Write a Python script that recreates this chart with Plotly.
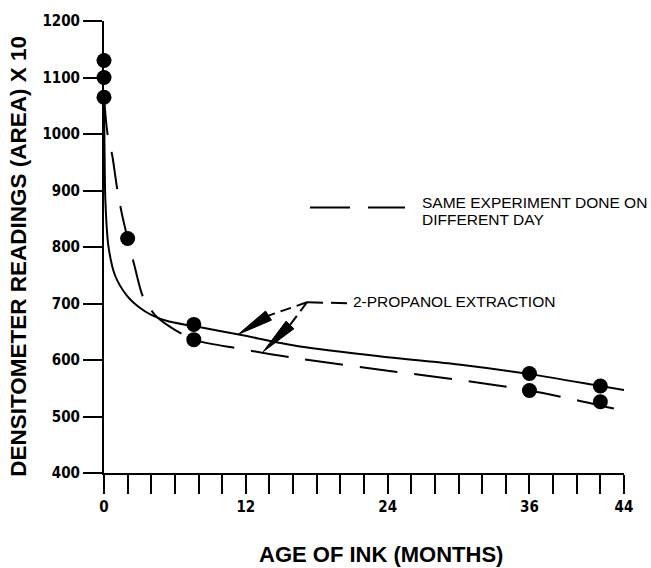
import plotly.graph_objects as go

# ---------------- data ----------------
# measured points
pts_month = [0, 0, 0, 2, 7.6, 7.6, 36, 36, 42, 42]
pts_value = [1130, 1100, 1065, 815, 663, 636, 576, 546, 554, 526]

# solid fitted curve (2-propanol extraction)
solid_month = [0, 0.05, 0.12, 0.37, 0.93, 1.9, 3.0, 4.0, 5.5, 7.6, 11.4, 16.6, 24, 30, 36, 42, 44]
solid_value = [1065, 960, 880, 802, 750, 715, 693, 680, 668, 660, 645, 624, 605, 592, 575, 554, 547]

# dashed fitted curve (same experiment, different day)
dash_month = [0, 0.3, 0.7, 1.1, 1.5, 2.0, 2.6, 3.3, 4.3, 5.5, 7.6, 11.5, 16, 24, 30, 36, 40, 44]
dash_value = [1065, 1000, 962, 905, 860, 815, 765, 712, 680, 660, 636, 620, 604, 581, 565, 546, 529, 510]

x_tickvals = [0, 2, 4, 6, 8, 10, 12, 14, 16, 18, 20, 22, 24, 26, 28, 30, 32, 34, 36, 38, 40, 42, 44]
x_ticklabels = {0: "0", 12: "12", 24: "24", 36: "36", 44: "44"}
y_tickvals = [400, 500, 600, 700, 800, 900, 1000, 1100, 1200]

legend_text_1 = "SAME EXPERIMENT DONE ON"
legend_text_2 = "DIFFERENT DAY"
arrow_text = "2-PROPANOL EXTRACTION"
x_title = "AGE OF INK (MONTHS)"
y_title = "DENSITOMETER READINGS (AREA) X 10"

# ---------------- layout geometry ----------------
W, H = 651, 568
ML, MR, MT, MB = 104, 27, 15, 95
XR = [0, 44]
YR = [400, 1200]
PW = W - ML - MR
PH = H - MT - MB


def dx(px):
    return XR[0] + (px - ML) * (XR[1] - XR[0]) / PW


def dy(py):
    return YR[0] + (MT + PH - py) * (YR[1] - YR[0]) / PH


BOLD_NARROW = "Liberation Sans Narrow, Arial Narrow, DejaVu Sans Condensed, sans-serif"
SANS = "Liberation Sans, Arial, Helvetica, sans-serif"

fig = go.Figure()

fig.add_trace(go.Scatter(x=solid_month, y=solid_value, mode="lines",
                         line=dict(color="black", width=2, shape="spline", smoothing=0.8),
                         hoverinfo="skip", showlegend=False))
fig.add_trace(go.Scatter(x=dash_month, y=dash_value, mode="lines",
                         line=dict(color="black", width=2, shape="spline", smoothing=0.8,
                                   dash="38px,17px"),
                         hoverinfo="skip", showlegend=False))
fig.add_trace(go.Scatter(x=pts_month, y=pts_value, mode="markers",
                         marker=dict(color="black", size=15), cliponaxis=False,
                         hoverinfo="skip", showlegend=False))

shapes = []
# legend line sample
shapes.append(dict(type="line", xref="x", yref="y", x0=dx(310), x1=dx(405), y0=dy(204), y1=dy(204),
                   line=dict(color="black", width=2, dash="40px,18px")))
# leader line to label
shapes.append(dict(type="line", xref="x", yref="y", x0=dx(307), x1=dx(347), y0=dy(300), y1=dy(301),
                   line=dict(color="black", width=2, dash="16px,8px")))

# arrows: (junction) -> base -> tip
junction = (307, 300)
arrows = [((268.5, 313.5), (238.3, 332.5)),
          ((290.0, 323.0), (263.3, 350.0))]
for base, tip in arrows:
    shapes.append(dict(type="line", xref="x", yref="y", x0=dx(junction[0]), y0=dy(junction[1]),
                       x1=dx(base[0]), y1=dy(base[1]),
                       line=dict(color="black", width=2, dash="11px,6px")))
    vx, vy = tip[0] - base[0], tip[1] - base[1]
    ln = (vx ** 2 + vy ** 2) ** 0.5
    nx, ny = -vy / ln * 5.5, vx / ln * 5.5
    p1 = (base[0] + nx, base[1] + ny)
    p2 = (base[0] - nx, base[1] - ny)
    path = "M {},{} L {},{} L {},{} Z".format(dx(tip[0]), dy(tip[1]), dx(p1[0]), dy(p1[1]),
                                               dx(p2[0]), dy(p2[1]))
    shapes.append(dict(type="path", xref="x", yref="y", path=path, fillcolor="black",
                       line=dict(color="black", width=1)))

annotations = [
    dict(text=legend_text_1, xref="x", yref="y", x=dx(420), y=dy(199), xanchor="left", yanchor="middle",
         showarrow=False, font=dict(family=SANS, size=15.5, color="black")),
    dict(text=legend_text_2, xref="x", yref="y", x=dx(420), y=dy(216), xanchor="left", yanchor="middle",
         showarrow=False, font=dict(family=SANS, size=15.5, color="black")),
    dict(text=arrow_text, xref="x", yref="y", x=dx(351), y=dy(299), xanchor="left", yanchor="middle",
         showarrow=False, font=dict(family=SANS, size=15.5, color="black")),
    dict(text=x_title, xref="paper", yref="paper", x=(381 - ML) / PW, y=(MT + PH - 556) / PH,
         xanchor="center", yanchor="middle", showarrow=False,
         font=dict(family=SANS, size=22, color="black", weight="bold")),
    dict(text=y_title, xref="paper", yref="paper", x=(19 - ML) / PW, y=(MT + PH - 254) / PH,
         xanchor="center", yanchor="middle", textangle=-90, showarrow=False,
         font=dict(family=SANS, size=22.5, color="black", weight="bold")),
]

fig.update_layout(
    width=W, height=H, autosize=False,
    margin=dict(l=ML, r=MR, t=MT, b=MB, pad=0),
    paper_bgcolor="white", plot_bgcolor="white",
    showlegend=False,
    shapes=shapes, annotations=annotations,
    xaxis=dict(range=XR, tickmode="array", tickvals=x_tickvals,
               ticktext=[x_ticklabels.get(v, "") for v in x_tickvals],
               ticks="outside", ticklen=19, tickwidth=2, tickcolor="black",
               showline=True, linewidth=2, linecolor="black",
               showgrid=False, zeroline=False,
               tickfont=dict(family=BOLD_NARROW, size=15, color="black", weight="bold")),
    yaxis=dict(range=YR, tickmode="array", tickvals=y_tickvals,
               ticktext=[str(v) for v in y_tickvals],
               ticks="outside", ticklen=19, tickwidth=2, tickcolor="black",
               showline=True, linewidth=2, linecolor="black",
               showgrid=False, zeroline=False,
               tickfont=dict(family=BOLD_NARROW, size=15, color="black", weight="bold")),
)

fig.write_html("out.html")
